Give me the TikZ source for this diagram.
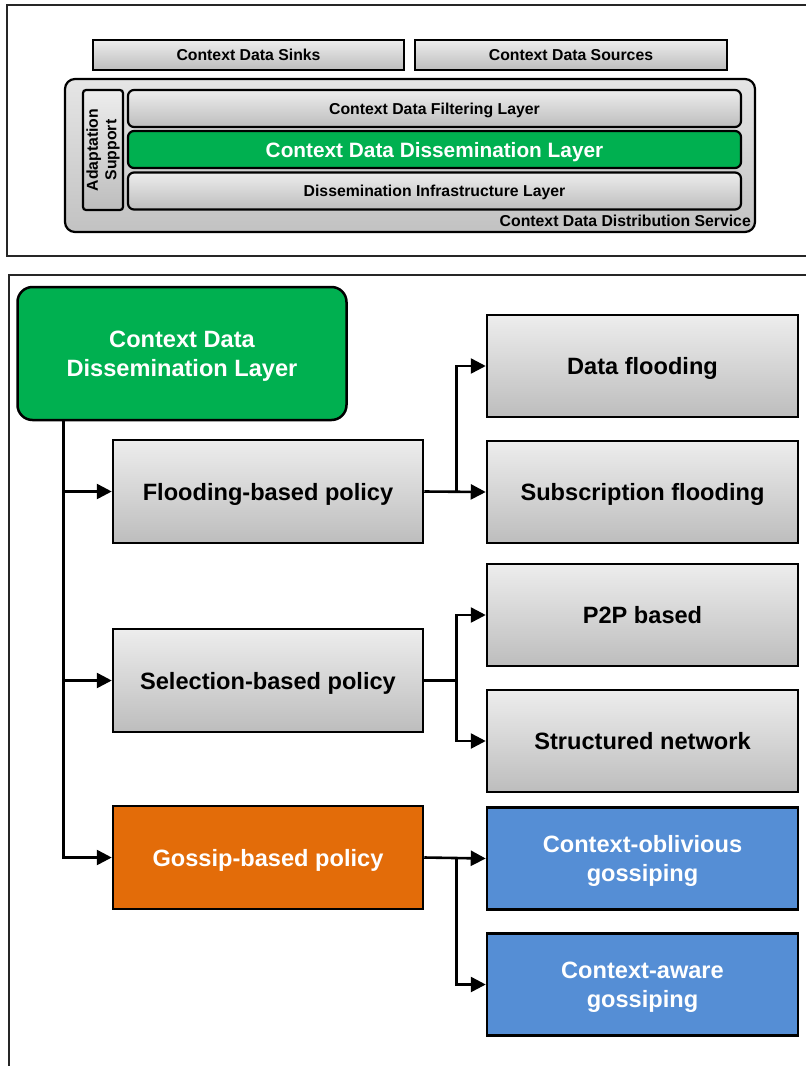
\documentclass[tikz,border=0pt]{standalone}
\usepackage{fontspec}
\setmainfont{Liberation Sans}
\usetikzlibrary{arrows.meta}

\definecolor{cgreen}{HTML}{00B050}
\definecolor{corange}{HTML}{E36C09}
\definecolor{cblue}{HTML}{558ED5}
\definecolor{gtop}{HTML}{EDEDED}
\definecolor{gbot}{HTML}{BDBDBD}

\tikzset{
  frame/.style={line width=2.7pt, black!85},
  base/.style={draw=black, line width=2.5pt, inner sep=0pt, align=center, text depth=0pt,
               font=\bfseries\fontsize{23.6}{29}\selectfont},
  graybox/.style={base, top color=gtop, bottom color=gbot, text=black},
  greenbox/.style={base, fill=cgreen, text=white},
  orangebox/.style={base, fill=corange, text=white},
  bluebox/.style={base, fill=cblue, text=white},
  small/.style={font=\bfseries\fontsize{15.8}{18}\selectfont},
  layerbox/.style={graybox, small, rounded corners=6pt, line width=2.2pt},
  conn/.style={line width=2.6pt, -{Triangle[length=15pt,width=15pt]}},
  plain/.style={line width=2.6pt},
}

\begin{document}
\begin{tikzpicture}[x=1pt, y=-1pt]
\useasboundingbox (0,0) rectangle (806,1066);
\clip (0,0) rectangle (806,1066);

% outer frames of the two panels
\draw[frame] (812,5) -- (7,5) -- (7,256) -- (812,256);
\draw[frame] (812,275) -- (9,275) -- (9,1072);

% ---------- upper panel: service architecture ----------
\node[graybox, small, minimum width=311pt, minimum height=30pt] (sinks) at (248.5,55) {Context Data Sinks};
\node[graybox, small, minimum width=312pt, minimum height=30pt] (sources) at (571,55) {Context Data Sources};

\node[draw=black, line width=2.2pt, rounded corners=10pt, top color=black!10, bottom color=black!24,
      minimum width=690pt, minimum height=153pt, inner sep=0pt] (service) at (410,155.5) {};
\node[small, anchor=base east, inner sep=0pt] (svclabel) at (751,226) {Context Data Distribution Service};

\node[graybox, small, rounded corners=3pt, line width=2.2pt, minimum width=40pt, minimum height=120pt] (adapt) at (103,150) {};
\node[small, rotate=90, align=center, inner sep=0pt, font=\bfseries\fontsize{15.8}{18.5}\selectfont] (adapttext) at (adapt.center) {Adaptation\\Support};

\node[layerbox, minimum width=613pt, minimum height=37pt] (filter) at (434.5,108.5) {Context Data Filtering Layer};
\node[greenbox, rounded corners=6pt, line width=2.2pt, minimum width=613pt, minimum height=37pt,
      font=\bfseries\fontsize{20.8}{24}\selectfont] (dissem) at (434.5,149.5) {Context Data Dissemination Layer};
\node[layerbox, minimum width=613pt, minimum height=37pt] (infra) at (434.5,191) {Dissemination Infrastructure Layer};

% ---------- lower panel: dissemination policies ----------
\node[greenbox, rounded corners=15pt, minimum width=329pt, minimum height=133pt] (ccd) at (182,353.5) {Context Data\\Dissemination Layer};

\node[graybox, minimum width=310pt, minimum height=103pt] (fpol) at (268,491.5) {Flooding-based policy};
\node[graybox, minimum width=310pt, minimum height=103pt] (spol) at (268,680.5) {Selection-based policy};
\node[orangebox, minimum width=310pt, minimum height=103pt] (gpol) at (268,857.5) {Gossip-based policy};

\node[graybox, minimum width=311pt, minimum height=102pt] (dflood) at (642.5,366) {Data flooding};
\node[graybox, minimum width=311pt, minimum height=102pt] (sflood) at (642.5,492) {Subscription flooding};
\node[graybox, minimum width=311pt, minimum height=102pt] (p2p) at (642.5,615) {P2P based};
\node[graybox, minimum width=311pt, minimum height=102pt] (struct) at (642.5,741) {Structured network};
\node[bluebox, minimum width=311pt, minimum height=102pt] (obliv) at (642.5,858.5) {Context-oblivious\\gossiping};
\node[bluebox, minimum width=311pt, minimum height=102pt] (aware) at (642.5,984.5) {Context-aware\\gossiping};

% trunk from the dissemination layer to the three policies
\coordinate (tk) at ([xshift=47pt]ccd.south west);
\draw[conn] (tk) |- (gpol.west);
\draw[conn] (tk |- fpol.west) -- (fpol.west);
\draw[conn] (tk |- spol.west) -- (spol.west);

% flooding branch
\coordinate (fb) at ([xshift=32pt]fpol.east);
\draw[conn] (fpol.east) -- (sflood.west);
\draw[conn] (fb) |- (dflood.west);

% selection branch
\coordinate (sb) at ([xshift=32pt]spol.east);
\draw[plain] (spol.east) -- (sb);
\draw[conn] (sb) |- (p2p.west);
\draw[conn] (sb) |- (struct.west);

% gossip branch
\coordinate (gb) at ([xshift=32pt]gpol.east);
\draw[conn] (gpol.east) -- (obliv.west);
\draw[conn] (gb) |- (aware.west);
\end{tikzpicture}
\end{document}
